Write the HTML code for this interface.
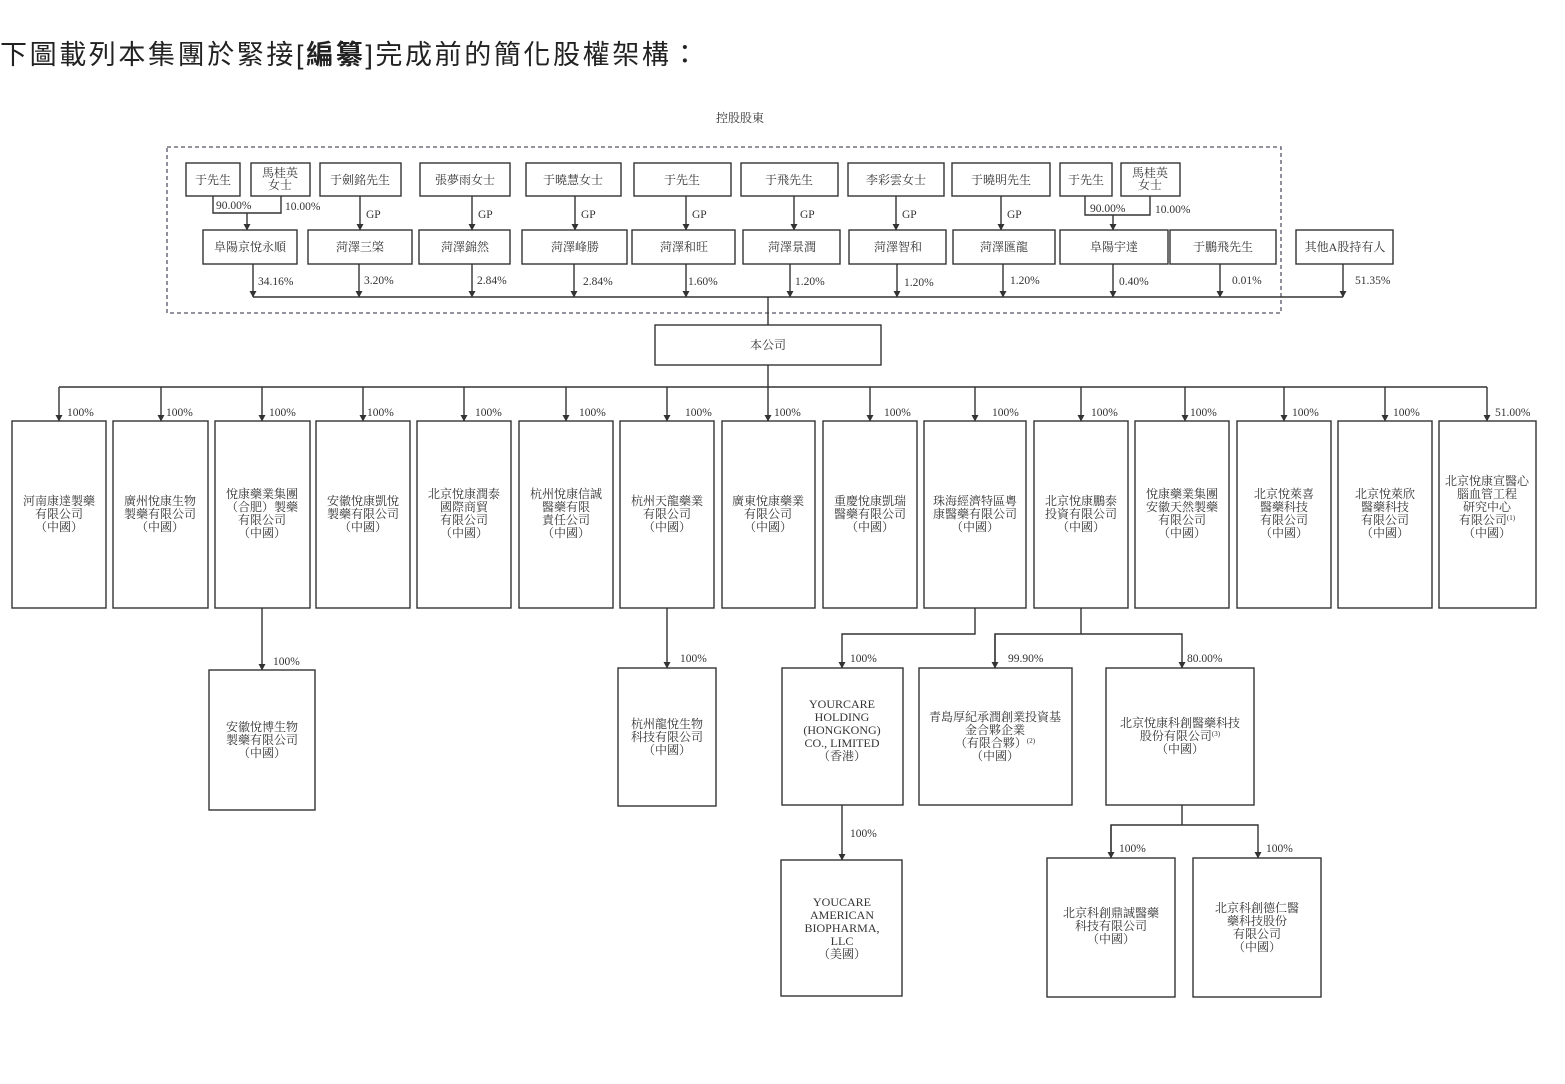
<!DOCTYPE html>
<html><head><meta charset="utf-8"><style>
html,body{margin:0;padding:0;background:#fff;}
svg{display:block;}
text{font-family:"Liberation Serif","Noto Serif CJK SC","Noto Sans CJK TC",serif;fill:#333;}
.b{fill:#fff;stroke:#333;stroke-width:1.4;}
.l{stroke:#333;stroke-width:1.4;fill:none;}
.t{font-size:12px;text-anchor:middle;}
.p{font-size:11.5px;}
</style></head><body>
<svg width="1565" height="1084" viewBox="0 0 1565 1084" xmlns="http://www.w3.org/2000/svg">
<defs><marker id="a" markerWidth="8" markerHeight="8" refX="4" refY="7" orient="0" markerUnits="userSpaceOnUse"><path d="M0.5,1 L7.5,1 L4,7.5 Z" fill="#333"/></marker></defs>
<text x="0" y="64" style="font-size:27px;letter-spacing:2.6px;font-family:'Liberation Sans','Noto Sans CJK TC',sans-serif;fill:#222">下圖載列本集團於緊接[<tspan font-weight="bold">編纂</tspan>]完成前的簡化股權架構：</text>
<text x="740" y="122" class="t">控股股東</text>
<rect x="167" y="147" width="1114" height="166" fill="none" stroke="#556" stroke-width="1.3" stroke-dasharray="4,3"/>

<rect class="b" x="186" y="163" width="54" height="33"/><text class="t" x="213" y="184">于先生</text>
<rect class="b" x="251" y="163" width="59" height="33"/><text class="t" x="280" y="177">馬桂英</text><text class="t" x="280" y="189">女士</text>
<rect class="b" x="320" y="163" width="81" height="33"/><text class="t" x="360" y="184">于劍銘先生</text>
<rect class="b" x="420" y="163" width="90" height="33"/><text class="t" x="465" y="184">張夢雨女士</text>
<rect class="b" x="526" y="163" width="95" height="33"/><text class="t" x="573" y="184">于曉慧女士</text>
<rect class="b" x="634" y="163" width="97" height="33"/><text class="t" x="682" y="184">于先生</text>
<rect class="b" x="741" y="163" width="97" height="33"/><text class="t" x="789" y="184">于飛先生</text>
<rect class="b" x="848" y="163" width="96" height="33"/><text class="t" x="896" y="184">李彩雲女士</text>
<rect class="b" x="952" y="163" width="98" height="33"/><text class="t" x="1001" y="184">于曉明先生</text>
<rect class="b" x="1060" y="163" width="52" height="33"/><text class="t" x="1086" y="184">于先生</text>
<rect class="b" x="1121" y="163" width="59" height="33"/><text class="t" x="1150" y="177">馬桂英</text><text class="t" x="1150" y="189">女士</text>

<path class="l" d="M213,196 V213 H281 V196"/><line class="l" x1="247" y1="213" x2="247" y2="230" marker-end="url(#a)"/>
<text class="p" x="216" y="209">90.00%</text><text class="p" x="285" y="210">10.00%</text>
<path class="l" d="M1085,196 V215 H1150 V196"/><line class="l" x1="1113" y1="215" x2="1113" y2="230" marker-end="url(#a)"/>
<text class="p" x="1090" y="212">90.00%</text><text class="p" x="1155" y="213">10.00%</text>

<g>
<line class="l" x1="360" y1="196" x2="360" y2="230" marker-end="url(#a)"/><text class="p" x="366" y="218">GP</text>
<line class="l" x1="472" y1="196" x2="472" y2="230" marker-end="url(#a)"/><text class="p" x="478" y="218">GP</text>
<line class="l" x1="575" y1="196" x2="575" y2="230" marker-end="url(#a)"/><text class="p" x="581" y="218">GP</text>
<line class="l" x1="686" y1="196" x2="686" y2="230" marker-end="url(#a)"/><text class="p" x="692" y="218">GP</text>
<line class="l" x1="794" y1="196" x2="794" y2="230" marker-end="url(#a)"/><text class="p" x="800" y="218">GP</text>
<line class="l" x1="896" y1="196" x2="896" y2="230" marker-end="url(#a)"/><text class="p" x="902" y="218">GP</text>
<line class="l" x1="1001" y1="196" x2="1001" y2="230" marker-end="url(#a)"/><text class="p" x="1007" y="218">GP</text>
</g>

<rect class="b" x="203" y="230" width="94" height="34"/><text class="t" x="250" y="251">阜陽京悅永順</text>
<rect class="b" x="308" y="230" width="104" height="34"/><text class="t" x="360" y="251">菏澤三棨</text>
<rect class="b" x="419" y="230" width="91" height="34"/><text class="t" x="465" y="251">菏澤錦然</text>
<rect class="b" x="522" y="230" width="105" height="34"/><text class="t" x="575" y="251">菏澤峰勝</text>
<rect class="b" x="632" y="230" width="103" height="34"/><text class="t" x="684" y="251">菏澤和旺</text>
<rect class="b" x="743" y="230" width="97" height="34"/><text class="t" x="792" y="251">菏澤景潤</text>
<rect class="b" x="849" y="230" width="97" height="34"/><text class="t" x="898" y="251">菏澤智和</text>
<rect class="b" x="953" y="230" width="102" height="34"/><text class="t" x="1004" y="251">菏澤匯龍</text>
<rect class="b" x="1060" y="230" width="108" height="34"/><text class="t" x="1114" y="251">阜陽宇達</text>
<rect class="b" x="1170" y="230" width="106" height="34"/><text class="t" x="1223" y="251">于鵬飛先生</text>
<rect class="b" x="1296" y="230" width="97" height="34"/><text class="t" x="1345" y="251">其他A股持有人</text>

<line class="l" x1="253" y1="264" x2="253" y2="297" marker-end="url(#a)"/><text class="p" x="258" y="285">34.16%</text>
<line class="l" x1="359" y1="264" x2="359" y2="297" marker-end="url(#a)"/><text class="p" x="364" y="284">3.20%</text>
<line class="l" x1="472" y1="264" x2="472" y2="297" marker-end="url(#a)"/><text class="p" x="477" y="284">2.84%</text>
<line class="l" x1="574" y1="264" x2="574" y2="297" marker-end="url(#a)"/><text class="p" x="583" y="285">2.84%</text>
<line class="l" x1="686" y1="264" x2="686" y2="297" marker-end="url(#a)"/><text class="p" x="688" y="285">1.60%</text>
<line class="l" x1="790" y1="264" x2="790" y2="297" marker-end="url(#a)"/><text class="p" x="795" y="285">1.20%</text>
<line class="l" x1="897" y1="264" x2="897" y2="297" marker-end="url(#a)"/><text class="p" x="904" y="286">1.20%</text>
<line class="l" x1="1003" y1="264" x2="1003" y2="297" marker-end="url(#a)"/><text class="p" x="1010" y="284">1.20%</text>
<line class="l" x1="1113" y1="264" x2="1113" y2="297" marker-end="url(#a)"/><text class="p" x="1119" y="285">0.40%</text>
<line class="l" x1="1220" y1="264" x2="1220" y2="297" marker-end="url(#a)"/><text class="p" x="1232" y="284">0.01%</text>
<line class="l" x1="1343" y1="264" x2="1343" y2="297" marker-end="url(#a)"/><text class="p" x="1355" y="284">51.35%</text>
<line class="l" x1="253" y1="297" x2="1343" y2="297"/>
<line class="l" x1="768" y1="297" x2="768" y2="325"/>

<rect class="b" x="655" y="325" width="226" height="40"/><text class="t" x="768" y="349">本公司</text>
<line class="l" x1="768" y1="365" x2="768" y2="387"/>
<line class="l" x1="59" y1="387" x2="1487" y2="387"/>

<g>
<line class="l" x1="59" y1="387" x2="59" y2="421" marker-end="url(#a)"/><text class="p" x="67" y="416">100%</text>
<line class="l" x1="161" y1="387" x2="161" y2="421" marker-end="url(#a)"/><text class="p" x="166" y="416">100%</text>
<line class="l" x1="262" y1="387" x2="262" y2="421" marker-end="url(#a)"/><text class="p" x="269" y="416">100%</text>
<line class="l" x1="363" y1="387" x2="363" y2="421" marker-end="url(#a)"/><text class="p" x="367" y="416">100%</text>
<line class="l" x1="464" y1="387" x2="464" y2="421" marker-end="url(#a)"/><text class="p" x="475" y="416">100%</text>
<line class="l" x1="566" y1="387" x2="566" y2="421" marker-end="url(#a)"/><text class="p" x="579" y="416">100%</text>
<line class="l" x1="667" y1="387" x2="667" y2="421" marker-end="url(#a)"/><text class="p" x="685" y="416">100%</text>
<line class="l" x1="768" y1="387" x2="768" y2="421" marker-end="url(#a)"/><text class="p" x="774" y="416">100%</text>
<line class="l" x1="870" y1="387" x2="870" y2="421" marker-end="url(#a)"/><text class="p" x="884" y="416">100%</text>
<line class="l" x1="975" y1="387" x2="975" y2="421" marker-end="url(#a)"/><text class="p" x="992" y="416">100%</text>
<line class="l" x1="1081" y1="387" x2="1081" y2="421" marker-end="url(#a)"/><text class="p" x="1091" y="416">100%</text>
<line class="l" x1="1185" y1="387" x2="1185" y2="421" marker-end="url(#a)"/><text class="p" x="1190" y="416">100%</text>
<line class="l" x1="1284" y1="387" x2="1284" y2="421" marker-end="url(#a)"/><text class="p" x="1292" y="416">100%</text>
<line class="l" x1="1385" y1="387" x2="1385" y2="421" marker-end="url(#a)"/><text class="p" x="1393" y="416">100%</text>
<line class="l" x1="1487" y1="387" x2="1487" y2="421" marker-end="url(#a)"/><text class="p" x="1495" y="416">51.00%</text>
</g>

<rect class="b" x="12" y="421" width="94" height="187"/><text class="t" x="59" y="505"><tspan x="59">河南康達製藥</tspan><tspan x="59" dy="13">有限公司</tspan><tspan x="59" dy="13">（中國）</tspan></text>
<rect class="b" x="113" y="421" width="95" height="187"/><text class="t" x="160" y="505"><tspan x="160">廣州悅康生物</tspan><tspan x="160" dy="13">製藥有限公司</tspan><tspan x="160" dy="13">（中國）</tspan></text>
<rect class="b" x="215" y="421" width="95" height="187"/><text class="t" x="262" y="498"><tspan x="262">悅康藥業集團</tspan><tspan x="262" dy="13">（合肥）製藥</tspan><tspan x="262" dy="13">有限公司</tspan><tspan x="262" dy="13">（中國）</tspan></text>
<rect class="b" x="316" y="421" width="94" height="187"/><text class="t" x="363" y="505"><tspan x="363">安徽悅康凱悅</tspan><tspan x="363" dy="13">製藥有限公司</tspan><tspan x="363" dy="13">（中國）</tspan></text>
<rect class="b" x="417" y="421" width="94" height="187"/><text class="t" x="464" y="498"><tspan x="464">北京悅康潤泰</tspan><tspan x="464" dy="13">國際商貿</tspan><tspan x="464" dy="13">有限公司</tspan><tspan x="464" dy="13">（中國）</tspan></text>
<rect class="b" x="519" y="421" width="94" height="187"/><text class="t" x="566" y="498"><tspan x="566">杭州悅康信誠</tspan><tspan x="566" dy="13">醫藥有限</tspan><tspan x="566" dy="13">責任公司</tspan><tspan x="566" dy="13">（中國）</tspan></text>
<rect class="b" x="620" y="421" width="94" height="187"/><text class="t" x="667" y="505"><tspan x="667">杭州天龍藥業</tspan><tspan x="667" dy="13">有限公司</tspan><tspan x="667" dy="13">（中國）</tspan></text>
<rect class="b" x="722" y="421" width="93" height="187"/><text class="t" x="768" y="505"><tspan x="768">廣東悅康藥業</tspan><tspan x="768" dy="13">有限公司</tspan><tspan x="768" dy="13">（中國）</tspan></text>
<rect class="b" x="823" y="421" width="94" height="187"/><text class="t" x="870" y="505"><tspan x="870">重慶悅康凱瑞</tspan><tspan x="870" dy="13">醫藥有限公司</tspan><tspan x="870" dy="13">（中國）</tspan></text>
<rect class="b" x="924" y="421" width="102" height="187"/><text class="t" x="975" y="505"><tspan x="975">珠海經濟特區粵</tspan><tspan x="975" dy="13">康醫藥有限公司</tspan><tspan x="975" dy="13">（中國）</tspan></text>
<rect class="b" x="1034" y="421" width="94" height="187"/><text class="t" x="1081" y="505"><tspan x="1081">北京悅康鵬泰</tspan><tspan x="1081" dy="13">投資有限公司</tspan><tspan x="1081" dy="13">（中國）</tspan></text>
<rect class="b" x="1135" y="421" width="94" height="187"/><text class="t" x="1182" y="498"><tspan x="1182">悅康藥業集團</tspan><tspan x="1182" dy="13">安徽天然製藥</tspan><tspan x="1182" dy="13">有限公司</tspan><tspan x="1182" dy="13">（中國）</tspan></text>
<rect class="b" x="1237" y="421" width="94" height="187"/><text class="t" x="1284" y="498"><tspan x="1284">北京悅萊喜</tspan><tspan x="1284" dy="13">醫藥科技</tspan><tspan x="1284" dy="13">有限公司</tspan><tspan x="1284" dy="13">（中國）</tspan></text>
<rect class="b" x="1338" y="421" width="94" height="187"/><text class="t" x="1385" y="498"><tspan x="1385">北京悅萊欣</tspan><tspan x="1385" dy="13">醫藥科技</tspan><tspan x="1385" dy="13">有限公司</tspan><tspan x="1385" dy="13">（中國）</tspan></text>
<rect class="b" x="1439" y="421" width="97" height="187"/><text class="t" x="1487" y="485"><tspan x="1487">北京悅康宣醫心</tspan><tspan x="1487" dy="13">腦血管工程</tspan><tspan x="1487" dy="13">研究中心</tspan><tspan x="1487" dy="13">有限公司<tspan font-size="7" dy="-4">(1)</tspan></tspan><tspan x="1487" dy="17">（中國）</tspan></text>

<line class="l" x1="262" y1="608" x2="262" y2="670" marker-end="url(#a)"/><text class="p" x="273" y="665">100%</text>
<rect class="b" x="209" y="670" width="106" height="140"/><text class="t" x="262" y="731"><tspan x="262">安徽悅博生物</tspan><tspan x="262" dy="13">製藥有限公司</tspan><tspan x="262" dy="13">（中國）</tspan></text>

<line class="l" x1="667" y1="608" x2="667" y2="668" marker-end="url(#a)"/><text class="p" x="680" y="662">100%</text>
<rect class="b" x="618" y="668" width="98" height="138"/><text class="t" x="667" y="728"><tspan x="667">杭州龍悅生物</tspan><tspan x="667" dy="13">科技有限公司</tspan><tspan x="667" dy="13">（中國）</tspan></text>

<path class="l" d="M975,608 V634 H842 V668" marker-end="url(#a)"/><text class="p" x="850" y="662">100%</text>
<rect class="b" x="782" y="668" width="121" height="137"/><text class="t" x="842" y="708"><tspan x="842">YOURCARE</tspan><tspan x="842" dy="13">HOLDING</tspan><tspan x="842" dy="13">(HONGKONG)</tspan><tspan x="842" dy="13">CO., LIMITED</tspan><tspan x="842" dy="13">（香港）</tspan></text>

<path class="l" d="M1081,608 V634"/>
<path class="l" d="M995,668 V634 H1182 V668" marker-end="url(#a)"/>
<line class="l" x1="995" y1="634" x2="995" y2="668" marker-end="url(#a)"/>
<text class="p" x="1008" y="662">99.90%</text><text class="p" x="1187" y="662">80.00%</text>
<rect class="b" x="919" y="668" width="153" height="137"/><text class="t" x="995" y="721"><tspan x="995">青島厚紀承潤創業投資基</tspan><tspan x="995" dy="13">金合夥企業</tspan><tspan x="995" dy="13">（有限合夥）<tspan font-size="7" dy="-4">(2)</tspan></tspan><tspan x="995" dy="17">（中國）</tspan></text>
<rect class="b" x="1106" y="668" width="148" height="137"/><text class="t" x="1180" y="727"><tspan x="1180">北京悅康科創醫藥科技</tspan><tspan x="1180" dy="13">股份有限公司<tspan font-size="7" dy="-4">(3)</tspan></tspan><tspan x="1180" dy="17">（中國）</tspan></text>

<line class="l" x1="842" y1="805" x2="842" y2="860" marker-end="url(#a)"/><text class="p" x="850" y="837">100%</text>
<rect class="b" x="781" y="860" width="121" height="136"/><text class="t" x="842" y="906"><tspan x="842">YOUCARE</tspan><tspan x="842" dy="13">AMERICAN</tspan><tspan x="842" dy="13">BIOPHARMA,</tspan><tspan x="842" dy="13">LLC</tspan><tspan x="842" dy="13">（美國）</tspan></text>

<path class="l" d="M1182,805 V825"/>
<path class="l" d="M1111,858 V825 H1258 V858" marker-end="url(#a)"/>
<line class="l" x1="1111" y1="825" x2="1111" y2="858" marker-end="url(#a)"/>
<text class="p" x="1119" y="852">100%</text><text class="p" x="1266" y="852">100%</text>
<rect class="b" x="1047" y="858" width="128" height="139"/><text class="t" x="1111" y="917"><tspan x="1111">北京科創鼎誠醫藥</tspan><tspan x="1111" dy="13">科技有限公司</tspan><tspan x="1111" dy="13">（中國）</tspan></text>
<rect class="b" x="1193" y="858" width="128" height="139"/><text class="t" x="1257" y="912"><tspan x="1257">北京科創德仁醫</tspan><tspan x="1257" dy="13">藥科技股份</tspan><tspan x="1257" dy="13">有限公司</tspan><tspan x="1257" dy="13">（中國）</tspan></text>
</svg>
</body></html>
